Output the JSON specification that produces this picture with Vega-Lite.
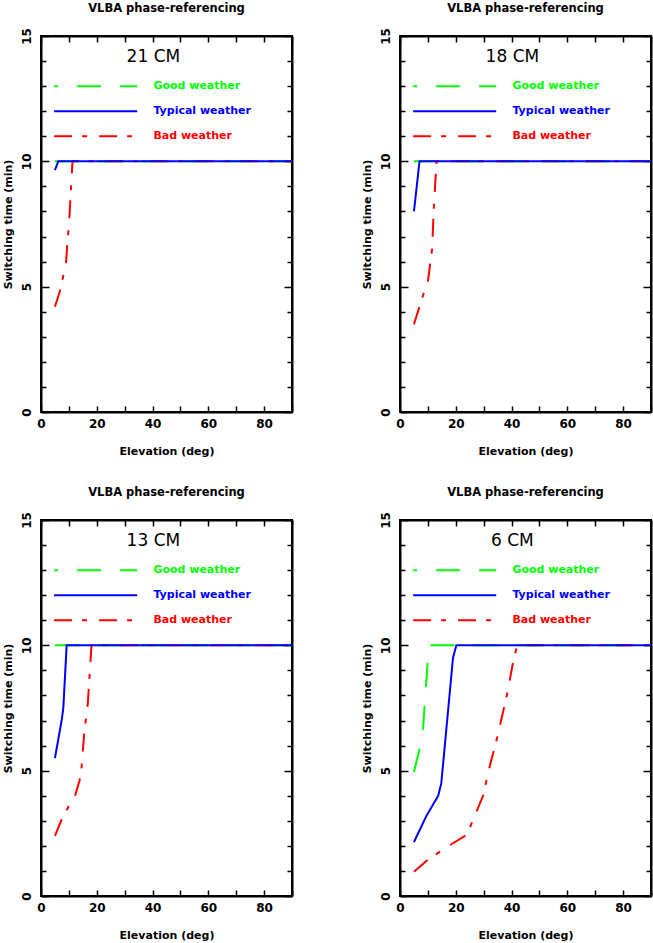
{
  "$schema": "https://vega.github.io/schema/vega-lite/v6.json",
  "background": "white",
  "padding": {"left": 1, "top": 2, "right": 0, "bottom": 0},
  "data": {
    "values": [
      {"band": "21 CM", "series": "Good weather", "elev": 5, "t": 10},
      {"band": "21 CM", "series": "Good weather", "elev": 90, "t": 10},
      {"band": "21 CM", "series": "Bad weather", "elev": 5, "t": 4.2},
      {"band": "21 CM", "series": "Bad weather", "elev": 7, "t": 4.9},
      {"band": "21 CM", "series": "Bad weather", "elev": 9, "t": 6.0},
      {"band": "21 CM", "series": "Bad weather", "elev": 10.2, "t": 7.8},
      {"band": "21 CM", "series": "Bad weather", "elev": 11.3, "t": 10},
      {"band": "21 CM", "series": "Bad weather", "elev": 90, "t": 10},
      {"band": "21 CM", "series": "Typical weather", "elev": 5, "t": 9.65},
      {"band": "21 CM", "series": "Typical weather", "elev": 6.2, "t": 10},
      {"band": "21 CM", "series": "Typical weather", "elev": 90, "t": 10},

      {"band": "18 CM", "series": "Good weather", "elev": 5, "t": 10},
      {"band": "18 CM", "series": "Good weather", "elev": 90, "t": 10},
      {"band": "18 CM", "series": "Bad weather", "elev": 5, "t": 3.5},
      {"band": "18 CM", "series": "Bad weather", "elev": 8.4, "t": 4.7},
      {"band": "18 CM", "series": "Bad weather", "elev": 10, "t": 5.2},
      {"band": "18 CM", "series": "Bad weather", "elev": 11.5, "t": 6.5},
      {"band": "18 CM", "series": "Bad weather", "elev": 12.2, "t": 8.3},
      {"band": "18 CM", "series": "Bad weather", "elev": 13.1, "t": 10},
      {"band": "18 CM", "series": "Bad weather", "elev": 90, "t": 10},
      {"band": "18 CM", "series": "Typical weather", "elev": 5, "t": 8.0},
      {"band": "18 CM", "series": "Typical weather", "elev": 7, "t": 10},
      {"band": "18 CM", "series": "Typical weather", "elev": 90, "t": 10},

      {"band": "13 CM", "series": "Good weather", "elev": 5, "t": 10},
      {"band": "13 CM", "series": "Good weather", "elev": 90, "t": 10},
      {"band": "13 CM", "series": "Bad weather", "elev": 5, "t": 2.4},
      {"band": "13 CM", "series": "Bad weather", "elev": 7.4, "t": 3.05},
      {"band": "13 CM", "series": "Bad weather", "elev": 9.8, "t": 3.55},
      {"band": "13 CM", "series": "Bad weather", "elev": 12.2, "t": 4.0},
      {"band": "13 CM", "series": "Bad weather", "elev": 13.8, "t": 4.6},
      {"band": "13 CM", "series": "Bad weather", "elev": 14.6, "t": 5.2},
      {"band": "13 CM", "series": "Bad weather", "elev": 15.5, "t": 6.5},
      {"band": "13 CM", "series": "Bad weather", "elev": 16.8, "t": 7.7},
      {"band": "13 CM", "series": "Bad weather", "elev": 18.1, "t": 10},
      {"band": "13 CM", "series": "Bad weather", "elev": 90, "t": 10},
      {"band": "13 CM", "series": "Typical weather", "elev": 5, "t": 5.5},
      {"band": "13 CM", "series": "Typical weather", "elev": 7.4, "t": 7.0},
      {"band": "13 CM", "series": "Typical weather", "elev": 8, "t": 7.5},
      {"band": "13 CM", "series": "Typical weather", "elev": 9.2, "t": 10},
      {"band": "13 CM", "series": "Typical weather", "elev": 90, "t": 10},

      {"band": "6 CM", "series": "Good weather", "elev": 5, "t": 4.95},
      {"band": "6 CM", "series": "Good weather", "elev": 7, "t": 5.85},
      {"band": "6 CM", "series": "Good weather", "elev": 8.3, "t": 6.75},
      {"band": "6 CM", "series": "Good weather", "elev": 9.9, "t": 9.3},
      {"band": "6 CM", "series": "Good weather", "elev": 10.5, "t": 10},
      {"band": "6 CM", "series": "Good weather", "elev": 90, "t": 10},
      {"band": "6 CM", "series": "Bad weather", "elev": 5, "t": 0.97},
      {"band": "6 CM", "series": "Bad weather", "elev": 10, "t": 1.45},
      {"band": "6 CM", "series": "Bad weather", "elev": 17.9, "t": 2.03},
      {"band": "6 CM", "series": "Bad weather", "elev": 24, "t": 2.45},
      {"band": "6 CM", "series": "Bad weather", "elev": 27.4, "t": 3.36},
      {"band": "6 CM", "series": "Bad weather", "elev": 29.8, "t": 4.0},
      {"band": "6 CM", "series": "Bad weather", "elev": 32, "t": 5.1},
      {"band": "6 CM", "series": "Bad weather", "elev": 34.8, "t": 6.3},
      {"band": "6 CM", "series": "Bad weather", "elev": 38.5, "t": 8.1},
      {"band": "6 CM", "series": "Bad weather", "elev": 40.5, "t": 9.3},
      {"band": "6 CM", "series": "Bad weather", "elev": 42, "t": 10},
      {"band": "6 CM", "series": "Bad weather", "elev": 90, "t": 10},
      {"band": "6 CM", "series": "Typical weather", "elev": 5, "t": 2.15},
      {"band": "6 CM", "series": "Typical weather", "elev": 9.5, "t": 3.2},
      {"band": "6 CM", "series": "Typical weather", "elev": 13.7, "t": 4.0},
      {"band": "6 CM", "series": "Typical weather", "elev": 14.8, "t": 4.5},
      {"band": "6 CM", "series": "Typical weather", "elev": 16.7, "t": 6.75},
      {"band": "6 CM", "series": "Typical weather", "elev": 19, "t": 9.5},
      {"band": "6 CM", "series": "Typical weather", "elev": 20.2, "t": 10},
      {"band": "6 CM", "series": "Typical weather", "elev": 90, "t": 10}
    ]
  },
  "facet": {
    "field": "band",
    "type": "nominal",
    "sort": ["21 CM", "18 CM", "13 CM", "6 CM"],
    "header": {
      "title": null,
      "labelExpr": "'VLBA phase-referencing'",
      "labelFont": "DejaVu Sans",
      "labelFontWeight": "bold",
      "labelFontSize": 11.5,
      "labelColor": "black",
      "labelPadding": 13
    }
  },
  "columns": 2,
  "spacing": {"row": 29, "column": 63},
  "resolve": {"axis": {"x": "independent", "y": "independent"}},
  "spec": {
    "width": 251,
    "height": 376,
    "resolve": {"axis": {"x": "independent", "y": "independent"}},
    "layer": [
      {
        "mark": {"type": "line", "opacity": 0},
        "encoding": {
          "x": {
            "field": "elev", "type": "quantitative",
            "scale": {"domain": [0, 90], "nice": false},
            "axis": {
              "orient": "top", "values": [0, 10, 20, 30, 40, 50, 60, 70, 80, 90],
              "labels": false, "title": null, "grid": false,
              "tickSize": -6, "tickWidth": 1.5, "tickColor": "black",
              "domainColor": "black", "domainWidth": 2
            }
          },
          "y": {
            "field": "t", "type": "quantitative",
            "scale": {"domain": [0, 15], "nice": false},
            "axis": {
              "orient": "right", "values": [0, 1, 2, 3, 4, 5, 6, 7, 8, 9, 10, 11, 12, 13, 14, 15],
              "labels": false, "title": null, "grid": false,
              "tickSize": {"condition": {"test": "datum.value % 5 === 0", "value": -8}, "value": -5},
              "tickWidth": 1.5, "tickColor": "black",
              "domainColor": "black", "domainWidth": 2
            }
          }
        }
      },
      {
        "mark": {"type": "line", "strokeWidth": 2},
        "encoding": {
          "x": {
            "field": "elev", "type": "quantitative",
            "scale": {"domain": [0, 90], "nice": false},
            "axis": {
              "orient": "bottom", "values": [0, 10, 20, 30, 40, 50, 60, 70, 80, 90],
              "labelExpr": "datum.value % 20 === 0 ? datum.label : ''",
              "labelFlush": false, "labelOverlap": false, "labelBound": false,
              "labelFont": "DejaVu Sans", "labelFontWeight": "bold", "labelFontSize": 12, "labelColor": "black",
              "labelPadding": 12,
              "title": "Elevation (deg)", "titleFont": "DejaVu Sans", "titleFontWeight": "bold",
              "titleFontSize": 11, "titleColor": "black", "titlePadding": 16,
              "grid": false,
              "tickSize": -6, "tickWidth": 1.5, "tickColor": "black",
              "domainColor": "black", "domainWidth": 2
            }
          },
          "y": {
            "field": "t", "type": "quantitative",
            "scale": {"domain": [0, 15], "nice": false},
            "axis": {
              "orient": "left", "values": [0, 1, 2, 3, 4, 5, 6, 7, 8, 9, 10, 11, 12, 13, 14, 15],
              "labelExpr": "datum.value % 5 === 0 ? datum.label : ''",
              "labelAngle": -90, "labelAlign": "center", "labelBaseline": "bottom",
              "labelFlush": false, "labelOverlap": false, "labelBound": false,
              "labelFont": "DejaVu Sans", "labelFontWeight": "bold", "labelFontSize": 12, "labelColor": "black",
              "labelPadding": 16,
              "title": "Switching time (min)", "titleFont": "DejaVu Sans", "titleFontWeight": "bold",
              "titleFontSize": 11, "titleColor": "black", "titlePadding": 4,
              "grid": false,
              "tickSize": {"condition": {"test": "datum.value % 5 === 0", "value": -8}, "value": -5},
              "tickWidth": 1.5, "tickColor": "black",
              "domainColor": "black", "domainWidth": 2
            }
          },
          "color": {
            "field": "series", "type": "nominal",
            "scale": {"domain": ["Good weather", "Typical weather", "Bad weather"], "range": ["#00ff00", "#0000ff", "#ff0000"]},
            "legend": null
          },
          "strokeDash": {
            "field": "series", "type": "nominal",
            "scale": {"domain": ["Good weather", "Typical weather", "Bad weather"], "range": [[24, 19], [1, 0], [18, 10, 5, 12]]},
            "legend": null
          }
        }
      },
      {
        "transform": [{"aggregate": [{"op": "count", "as": "n"}], "groupby": ["band"]}],
        "layer": [
          {
            "mark": {"type": "text", "font": "DejaVu Sans", "fontSize": 17, "align": "center", "baseline": "middle", "color": "black"},
            "encoding": {
              "x": {"datum": 40.3, "type": "quantitative", "scale": {"domain": [0, 90], "nice": false}, "axis": null},
              "y": {"datum": 14.17, "type": "quantitative", "scale": {"domain": [0, 15], "nice": false}, "axis": null},
              "text": {"field": "band"}
            }
          },
          {
            "mark": {"type": "rule", "color": "#00ff00", "strokeWidth": 2, "strokeDash": [24, 19], "strokeDashOffset": 20},
            "encoding": {
              "x": {"datum": 4.7, "type": "quantitative", "scale": {"domain": [0, 90], "nice": false}, "axis": null},
              "x2": {"datum": 34.5},
              "y": {"datum": 13, "type": "quantitative", "scale": {"domain": [0, 15], "nice": false}, "axis": null}
            }
          },
          {
            "mark": {"type": "text", "text": "Good weather", "color": "#00ff00", "font": "DejaVu Sans", "fontWeight": "bold", "fontSize": 11, "align": "left", "baseline": "middle"},
            "encoding": {
              "x": {"datum": 40.3, "type": "quantitative", "scale": {"domain": [0, 90], "nice": false}, "axis": null},
              "y": {"datum": 13, "type": "quantitative", "scale": {"domain": [0, 15], "nice": false}, "axis": null}
            }
          },
          {
            "mark": {"type": "rule", "color": "#0000ff", "strokeWidth": 2},
            "encoding": {
              "x": {"datum": 4.7, "type": "quantitative", "scale": {"domain": [0, 90], "nice": false}, "axis": null},
              "x2": {"datum": 34.5},
              "y": {"datum": 12, "type": "quantitative", "scale": {"domain": [0, 15], "nice": false}, "axis": null}
            }
          },
          {
            "mark": {"type": "text", "text": "Typical weather", "color": "#0000ff", "font": "DejaVu Sans", "fontWeight": "bold", "fontSize": 11, "align": "left", "baseline": "middle"},
            "encoding": {
              "x": {"datum": 40.3, "type": "quantitative", "scale": {"domain": [0, 90], "nice": false}, "axis": null},
              "y": {"datum": 12, "type": "quantitative", "scale": {"domain": [0, 15], "nice": false}, "axis": null}
            }
          },
          {
            "mark": {"type": "rule", "color": "#ff0000", "strokeWidth": 2, "strokeDash": [18, 10, 5, 12]},
            "encoding": {
              "x": {"datum": 4.7, "type": "quantitative", "scale": {"domain": [0, 90], "nice": false}, "axis": null},
              "x2": {"datum": 34.5},
              "y": {"datum": 11, "type": "quantitative", "scale": {"domain": [0, 15], "nice": false}, "axis": null}
            }
          },
          {
            "mark": {"type": "text", "text": "Bad weather", "color": "#ff0000", "font": "DejaVu Sans", "fontWeight": "bold", "fontSize": 11, "align": "left", "baseline": "middle"},
            "encoding": {
              "x": {"datum": 40.3, "type": "quantitative", "scale": {"domain": [0, 90], "nice": false}, "axis": null},
              "y": {"datum": 11, "type": "quantitative", "scale": {"domain": [0, 15], "nice": false}, "axis": null}
            }
          }
        ]
      }
    ]
  },
  "config": {
    "view": {"stroke": "black", "strokeWidth": 2}
  }
}
